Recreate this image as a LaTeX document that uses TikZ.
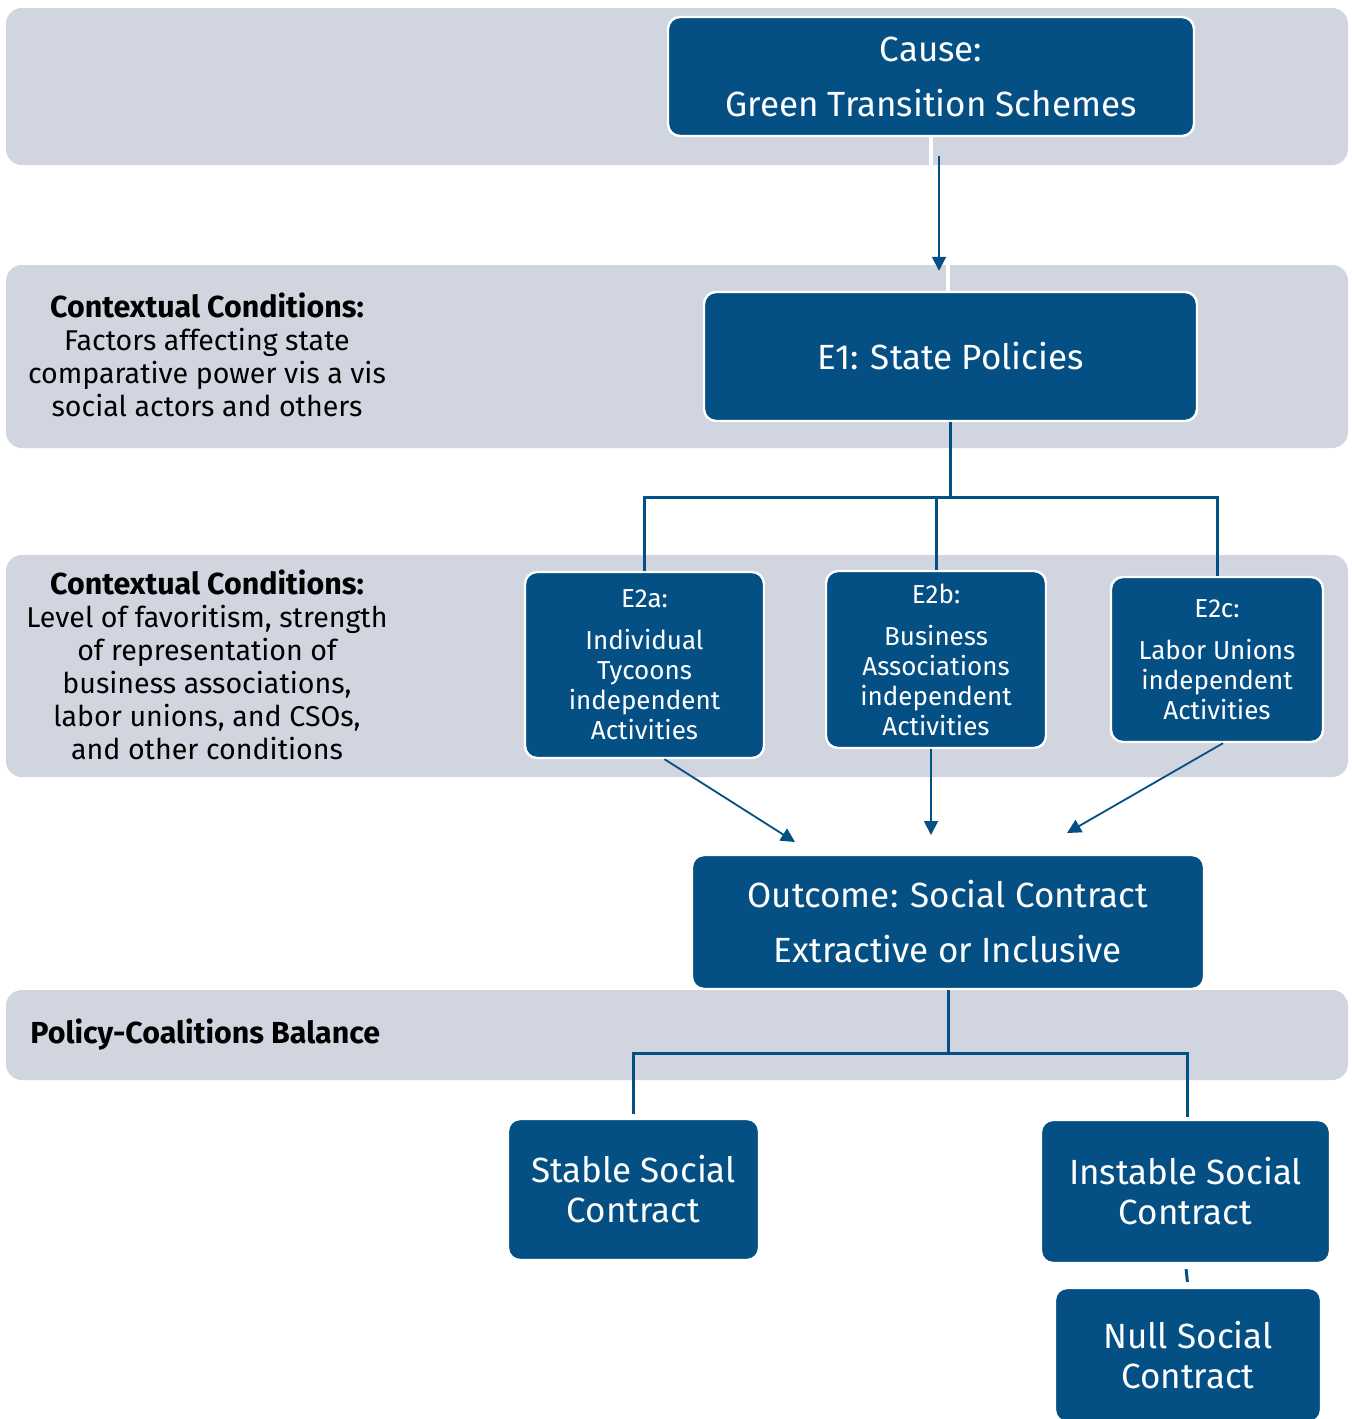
\documentclass[tikz,border=0pt]{standalone}
\usepackage{fontspec}
\setmainfont{Fira Sans}
\usetikzlibrary{arrows.meta}
\definecolor{boxblue}{RGB}{4,79,132}
\definecolor{bandgray}{RGB}{208,213,224}
\tikzset{
  band/.style={fill=bandgray, rounded corners=8pt},
  darkbox/.style={fill=boxblue, draw=white, line width=1.2pt, rounded corners=6pt, text=white, align=center, inner sep=0pt},
  wh/.style 2 args={minimum width=#1*0.5pt, minimum height=#2*0.5pt},
  wide/.style={font=\fontsize{17.5}{27.5}\selectfont},
  twoline/.style={font=\fontsize{17.5}{20}\selectfont},
  subtext/.style={font=\fontsize{13}{15}\selectfont},
  ctxtext/.style={align=center, inner sep=0pt, font=\fontsize{14.3}{16.5}\selectfont},
  head/.style={font=\bfseries\fontsize{15.2}{16.5}\selectfont},
  tree/.style={draw=boxblue, line width=1.5pt},
  arr/.style={draw=boxblue, line width=0.9pt, -{Triangle[length=7pt,width=7pt]}}
}
\newcommand\ctxhead[1]{{\bfseries\fontsize{15.2}{16.5}\selectfont #1}}

\begin{document}
\begin{tikzpicture}[x=0.5pt,y=-0.5pt]
  \clip (0,0) rectangle (1352,1419);
  \fill[white] (0,0) rectangle (1352,1419);
  \fill[band] (6,8) rectangle (1348,165);
  \fill[band] (6,265) rectangle (1348,448);
  \fill[band] (6,555) rectangle (1348,777);
  \fill[band] (6,990) rectangle (1348,1080);

  \node[darkbox, wh={526}{119}, wide] (cause) at (931,76.5) {Cause:\\Green Transition Schemes};
  \node[darkbox, wh={493}{129}, wide] (e1) at (950.5,356.5) {E1: State Policies};
  \node[darkbox, wh={239}{186}, subtext] (e2a) at (644.5,665) {E2a:\\[6pt]Individual\\Tycoons\\independent\\Activities};
  \node[darkbox, wh={220}{177}, subtext] (e2b) at (936,659.5) {E2b:\\[6pt]Business\\Associations\\independent\\Activities};
  \node[darkbox, wh={212}{165}, subtext] (e2c) at (1217,659.5) {E2c:\\[6pt]Labor Unions\\independent\\Activities};
  \node[darkbox, wh={512}{134}, wide] (outcome) at (948,922) {Outcome: Social Contract\\Extractive or Inclusive};
  \node[darkbox, wh={251}{141}, twoline] (stable) at (633.5,1189.5) {Stable Social\\Contract};
  \node[darkbox, wh={289}{143}, twoline] (instable) at (1185.5,1191.5) {Instable Social\\Contract};
  \node[darkbox, wh={266}{134}, twoline] (null) at (1188,1355) {Null Social\\Contract};

  \node[ctxtext] (ctxa) at (207,355) {\ctxhead{Contextual Conditions:}\\Factors affecting state\\comparative power vis a vis\\social actors and others};
  \node[ctxtext] (ctxb) at (207,665) {\ctxhead{Contextual Conditions:}\\Level of favoritism, strength\\of representation of\\business associations,\\labor unions, and CSOs,\\and other conditions};
  \node[ctxtext, head, anchor=west] (balance) at (30,1035) {Policy-Coalitions Balance};

  \draw[white, line width=2pt] (cause.south) -- ++(0,29);
  \draw[white, line width=2pt] ([xshift=-1.5pt]e1.north) -- ++(0,-27);
  \draw[arr, shorten <=9.5pt, shorten >=10pt] ([xshift=4pt]cause.south) -- ([xshift=4pt]cause.south |- e1.north);

  \coordinate (split1) at (950.5,497);
  \draw[tree] (e1.south) -- (split1) -| (e2a.north);
  \draw[tree] (split1) -| (e2c.north);
  \draw[tree] (split1 -| e2b.north) -- (e2b.north);

  \coordinate (tipa) at (795,842);
  \coordinate (tipb) at (931,835);
  \coordinate (tipc) at (1067,833);
  \draw[arr] ([xshift=10pt]e2a.south) -- (tipa);
  \draw[arr] ([xshift=-2.5pt]e2b.south) -- (tipb);
  \draw[arr] ([xshift=3pt]e2c.south) -- (tipc);

  \coordinate (split2) at (948,1053);
  \draw[tree] (outcome.south) -- (split2) -| ([yshift=2pt]stable.north);
  \draw[tree] (split2) -| ([xshift=0.75pt,yshift=1pt]instable.north);
  \draw[tree, shorten <=2.5pt, shorten >=2.5pt] (instable.south) -- (null.north);
\end{tikzpicture}
\end{document}
